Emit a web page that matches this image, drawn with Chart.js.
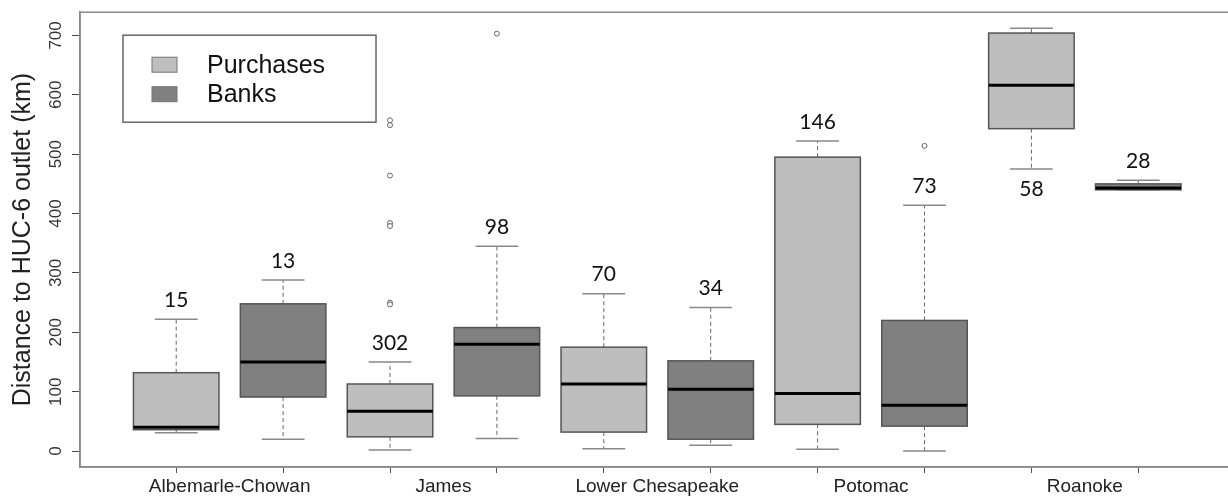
<!DOCTYPE html>
<html>
<head>
<meta charset="utf-8">
<script src="https://cdn.jsdelivr.net/npm/chart.js@4"></script>
<style>
  html, body { margin: 0; padding: 0; background: #fff; overflow: hidden; }
  #wrap { width: 1240px; height: 498px; }
</style>
</head>
<body>
<div id="wrap"><canvas id="boxChart" width="1240" height="498"></canvas></div>
<script>
const categories = ["Albemarle-Chowan", "James", "Lower Chesapeake", "Potomac", "Roanoke"];
const groups = ["Purchases", "Banks"];
const groupColors = ["#bebebe", "#808080"];

// sample sizes printed over the boxes
const purchasesN = [15, 302, 70, 146, 58];
const banksN = [13, 98, 34, 73, 28];

// five-number summaries, km
const purchasesLow = [31, 2, 4, 3, 475];
const purchasesQ1 = [36, 24, 32, 45, 543];
const purchasesMed = [40, 67, 113, 97, 616];
const purchasesQ3 = [132, 113, 175, 495, 704];
const purchasesHigh = [222, 150, 265, 522, 712];

const banksLow = [20, 21, 10, 0, 440];
const banksQ1 = [91, 93, 20, 42, 440];
const banksMed = [150, 180, 104, 77, 443];
const banksQ3 = [248, 208, 152, 220, 450];
const banksHigh = [288, 345, 242, 414, 456];

const purchasesOutliers = [[], [557, 549, 464, 384, 379, 250, 247], [], [], []];
const banksOutliers = [[], [703], [], [514], []];

const yTicks = [0, 100, 200, 300, 400, 500, 600, 700];

const stats = [
  { n: purchasesN, low: purchasesLow, q1: purchasesQ1, med: purchasesMed, q3: purchasesQ3, high: purchasesHigh, out: purchasesOutliers },
  { n: banksN, low: banksLow, q1: banksQ1, med: banksMed, q3: banksQ3, high: banksHigh, out: banksOutliers }
];

function boxPos(c, g) {
  return c * 2 + g + 1;
}

const outlierData = stats.map((s, g) => {
  const pts = [];
  s.out.forEach((vals, c) => vals.forEach(v => pts.push({ x: boxPos(c, g), y: v })));
  return pts;
});

const boxPlugin = {
  id: "boxes",
  beforeDatasetsDraw(chart) {
    const { ctx, scales: { x, y } } = chart;
    ctx.save();
    stats.forEach((s, g) => {
      categories.forEach((cat, c) => {
        const p = boxPos(c, g);
        const xl = x.getPixelForValue(p - 0.4);
        const xr = x.getPixelForValue(p + 0.4);
        const xm = x.getPixelForValue(p);
        const cl = x.getPixelForValue(p - 0.2);
        const cr = x.getPixelForValue(p + 0.2);
        const yLow = y.getPixelForValue(s.low[c]);
        const yQ1 = y.getPixelForValue(s.q1[c]);
        const yMed = y.getPixelForValue(s.med[c]);
        const yQ3 = y.getPixelForValue(s.q3[c]);
        const yHigh = y.getPixelForValue(s.high[c]);

        // whiskers
        ctx.strokeStyle = "#666";
        ctx.lineWidth = 1;
        ctx.setLineDash([4, 3]);
        ctx.beginPath();
        ctx.moveTo(xm, yQ3); ctx.lineTo(xm, yHigh);
        ctx.moveTo(xm, yQ1); ctx.lineTo(xm, yLow);
        ctx.stroke();
        ctx.setLineDash([]);
        ctx.strokeStyle = "#888";
        ctx.lineWidth = 1.5;
        ctx.beginPath();
        ctx.moveTo(cl, yHigh); ctx.lineTo(cr, yHigh);
        ctx.moveTo(cl, yLow); ctx.lineTo(cr, yLow);
        ctx.stroke();

        // box
        ctx.fillStyle = groupColors[g];
        ctx.fillRect(xl, yQ3, xr - xl, yQ1 - yQ3);
        ctx.strokeStyle = "#555";
        ctx.lineWidth = 1.5;
        ctx.strokeRect(xl, yQ3, xr - xl, yQ1 - yQ3);

        // median
        ctx.strokeStyle = "#000";
        ctx.lineWidth = 3;
        ctx.beginPath();
        ctx.moveTo(xl, yMed); ctx.lineTo(xr, yMed);
        ctx.stroke();
      });
    });
    ctx.restore();
  },
  afterDatasetsDraw(chart) {
    const { ctx, chartArea, scales: { x, y } } = chart;
    ctx.save();
    // sample sizes
    ctx.fillStyle = "#111";
    ctx.font = "21px Lato, 'Noto Sans', sans-serif";
    ctx.textAlign = "center";
    ctx.textBaseline = "middle";
    stats.forEach((s, g) => {
      categories.forEach((cat, c) => {
        const xm = x.getPixelForValue(boxPos(c, g));
        let ty = y.getPixelForValue(s.high[c]) - 19;
        if (ty < chartArea.top + 12) ty = y.getPixelForValue(s.low[c]) + 20;
        ctx.fillText(String(s.n[c]), xm, ty);
      });
    });

    // frame
    ctx.strokeStyle = "#888";
    ctx.lineWidth = 1.5;
    ctx.strokeRect(chartArea.left, chartArea.top, chartArea.right - chartArea.left, chartArea.bottom - chartArea.top);

    // legend
    const lx = chartArea.left + 43;
    const ly = chartArea.top + 23;
    ctx.fillStyle = "#fff";
    ctx.fillRect(lx, ly, 253, 87);
    ctx.strokeStyle = "#666";
    ctx.lineWidth = 1.5;
    ctx.strokeRect(lx, ly, 253, 87);
    ctx.font = "25px 'Liberation Sans', Arial, sans-serif";
    ctx.textAlign = "left";
    groups.forEach((name, g) => {
      const sy = ly + 22 + g * 29.5;
      ctx.fillStyle = groupColors[g];
      ctx.fillRect(lx + 29, sy, 25, 15);
      ctx.strokeStyle = "#777";
      ctx.lineWidth = 1;
      ctx.strokeRect(lx + 29, sy, 25, 15);
      ctx.fillStyle = "#111";
      ctx.fillText(name, lx + 84, sy + 8.5);
    });
    ctx.restore();
  }
};

new Chart(document.getElementById("boxChart"), {
  type: "scatter",
  data: {
    datasets: groups.map((name, g) => ({
      label: name,
      data: outlierData[g],
      pointStyle: "circle",
      pointRadius: 2.5,
      pointBorderWidth: 1,
      pointBorderColor: "#666",
      pointBackgroundColor: "#fff"
    }))
  },
  options: {
    responsive: false,
    animation: false,
    devicePixelRatio: 1,
    layout: { padding: { left: 0, top: 10, right: 5.5, bottom: 0 } },
    plugins: { legend: { display: false }, tooltip: { enabled: false } },
    scales: {
      x: {
        type: "linear",
        min: 0.1,
        max: 10.9,
        afterBuildTicks(scale) {
          const t = [];
          categories.forEach((cat, c) => {
            t.push({ value: boxPos(c, 0) });
            t.push({ value: boxPos(c, 0) + 0.5 });
            t.push({ value: boxPos(c, 1) });
          });
          scale.ticks = t;
        },
        afterFit(scale) { scale.height = 31; },
        border: { display: true, color: "#888", width: 1.5 },
        grid: {
          drawOnChartArea: false,
          drawTicks: true,
          tickLength: 6,
          color: (ctx) => (ctx.tick && Number.isInteger(ctx.tick.value)) ? "#555" : "rgba(0,0,0,0)"
        },
        ticks: {
          autoSkip: false,
          maxRotation: 0,
          padding: 2,
          color: "#222",
          font: { family: "'Liberation Sans', Arial, sans-serif", size: 19 },
          callback(value) {
            if (Number.isInteger(value)) return "";
            return categories[Math.floor((value - 1) / 2)];
          }
        }
      },
      y: {
        min: -26.8,
        max: 739.1,
        afterBuildTicks(scale) {
          scale.ticks = yTicks.map(v => ({ value: v }));
        },
        afterFit(scale) { scale.width = 80; },
        border: { display: true, color: "#888", width: 1.5 },
        grid: { drawOnChartArea: false, drawTicks: true, tickLength: 8, color: "#444" },
        ticks: {
          minRotation: 90,
          maxRotation: 90,
          crossAlign: "center",
          padding: 2,
          color: "#333",
          font: { family: "'Liberation Sans', Arial, sans-serif", size: 17 }
        },
        title: {
          display: true,
          text: "Distance to HUC-6 outlet (km)",
          color: "#222",
          padding: { top: 8, bottom: 0 },
          font: { family: "'Liberation Sans', Arial, sans-serif", size: 25 }
        }
      }
    }
  },
  plugins: [boxPlugin]
});
</script>
</body>
</html>
